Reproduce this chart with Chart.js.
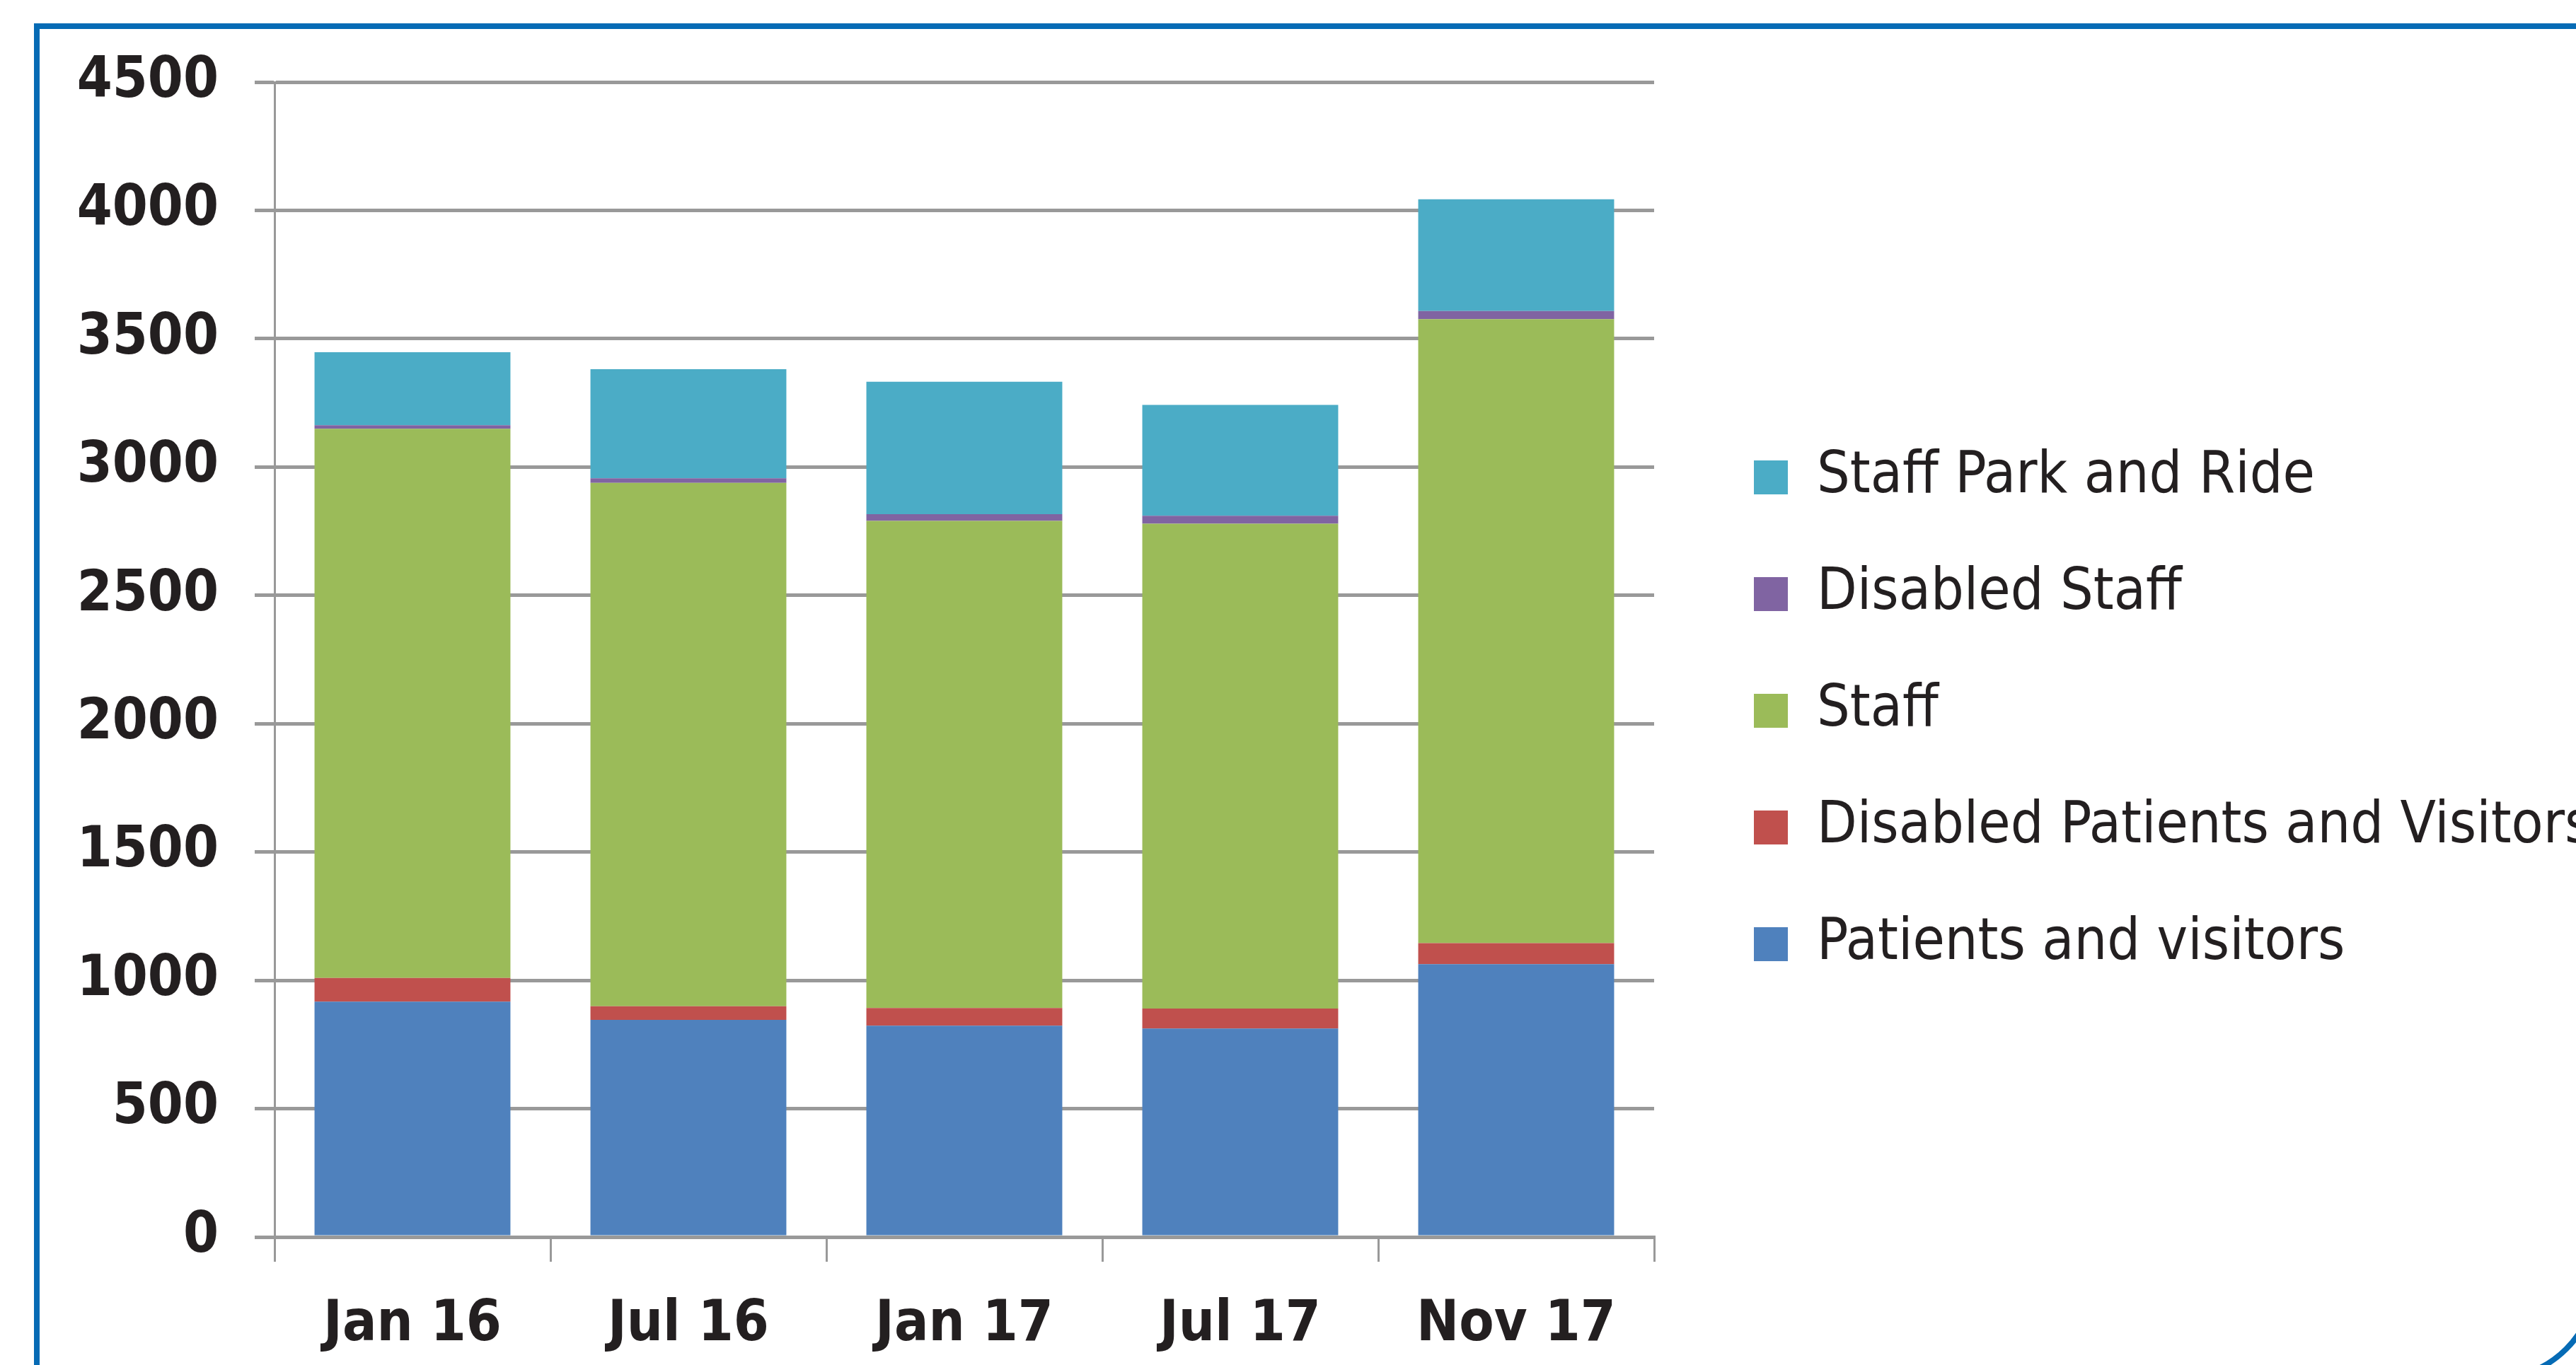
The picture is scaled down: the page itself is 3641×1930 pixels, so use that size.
<!DOCTYPE html>
<html>
<head>
<meta charset="utf-8">
<title>Parking permits</title>
<script src="https://cdn.jsdelivr.net/npm/chart.js@4.4.1/dist/chart.umd.min.js"></script>
<style>
  html, body { margin: 0; padding: 0; background: #fff; overflow: hidden; }
  body { width: 3641px; height: 1930px; position: relative; }
  #frame {
    position: absolute; left: 48px; top: 33px;
    width: 3626px; height: 1921px; box-sizing: border-box;
    border: 8px solid #066bb5; border-bottom-right-radius: 150px;
  }
  #myChart { position: absolute; left: 0; top: 0; }
</style>
</head>
<body>
<div id="frame"></div>
<canvas id="myChart" width="3641" height="1930"></canvas>
<script>
// categories
var months = ["Jan 16", "Jul 16", "Jan 17", "Jul 17", "Nov 17"];

// series, bottom to top of each stack
var patients = [917, 846, 823, 812, 1063];
var disabledPatients = [92, 53, 69, 78, 82];
var staff = [2140, 2039, 1898, 1889, 2431];
var disabledStaff = [14, 18, 26, 31, 32];
var parkAndRide = [284, 425, 516, 432, 435];

// value axis
var yMin = 0;
var yMax = 4500;
var yStep = 500;

var fontFamily = "'DejaVu Sans Condensed', 'DejaVu Sans', sans-serif";
var textColor = "#231f20";
var gridColor = "#999999";

// empty axes, they only hold space around the plot
function spacer(pos, size) {
    return {
        position: pos,
        display: true,
        grid: { display: false },
        ticks: { display: false },
        border: { display: false },
        afterFit: function (s) {
            if (pos == "top") s.height = size;
            else s.width = size;
        }
    };
}

new Chart("myChart", {
    type: "bar",
    data: {
        labels: months,
        datasets: [
            { label: "Patients and visitors", data: patients, backgroundColor: "#4f81bd" },
            { label: "Disabled Patients and Visitors", data: disabledPatients, backgroundColor: "#c0504d" },
            { label: "Staff", data: staff, backgroundColor: "#9bbb59" },
            { label: "Disabled Staff", data: disabledStaff, backgroundColor: "#8064a2" },
            { label: "Staff Park and Ride", data: parkAndRide, backgroundColor: "#4bacc6" }
        ]
    },
    options: {
        responsive: false,
        animation: false,
        layout: { padding: { left: 60, top: 80, right: 0, bottom: 0 } },
        datasets: { bar: { categoryPercentage: 1, barPercentage: 0.71 } },
        scales: {
            x: {
                stacked: true,
                grid: { drawOnChartArea: false, drawTicks: true, tickLength: 35, color: gridColor, lineWidth: 3, offset: true },
                border: { color: gridColor, width: 4 },
                ticks: { padding: 42, color: textColor, font: { family: fontFamily, size: 80, weight: "bold" } },
                afterFit: function (s) { s.height = 181; }
            },
            y: {
                stacked: true,
                min: yMin,
                max: yMax,
                ticks: {
                    stepSize: yStep,
                    padding: 51,
                    color: textColor,
                    font: { family: fontFamily, size: 80, weight: "bold" },
                    callback: function (v) { return String(v); }
                },
                grid: { color: gridColor, lineWidth: 5, tickLength: 28 },
                border: { color: gridColor, width: 3 },
                afterFit: function (s) { s.width = 328; }
            },
            gapTop: spacer("top", 36),
            gapRight: spacer("right", 58)
        },
        plugins: {
            title: { display: false },
            tooltip: { enabled: false },
            legend: {
                position: "right",
                reverse: true,
                maxWidth: 1245,
                labels: {
                    boxWidth: 48,
                    boxHeight: 48,
                    padding: 83,
                    color: textColor,
                    font: { family: fontFamily, size: 82 }
                }
            }
        }
    }
});
</script>
</body>
</html>
